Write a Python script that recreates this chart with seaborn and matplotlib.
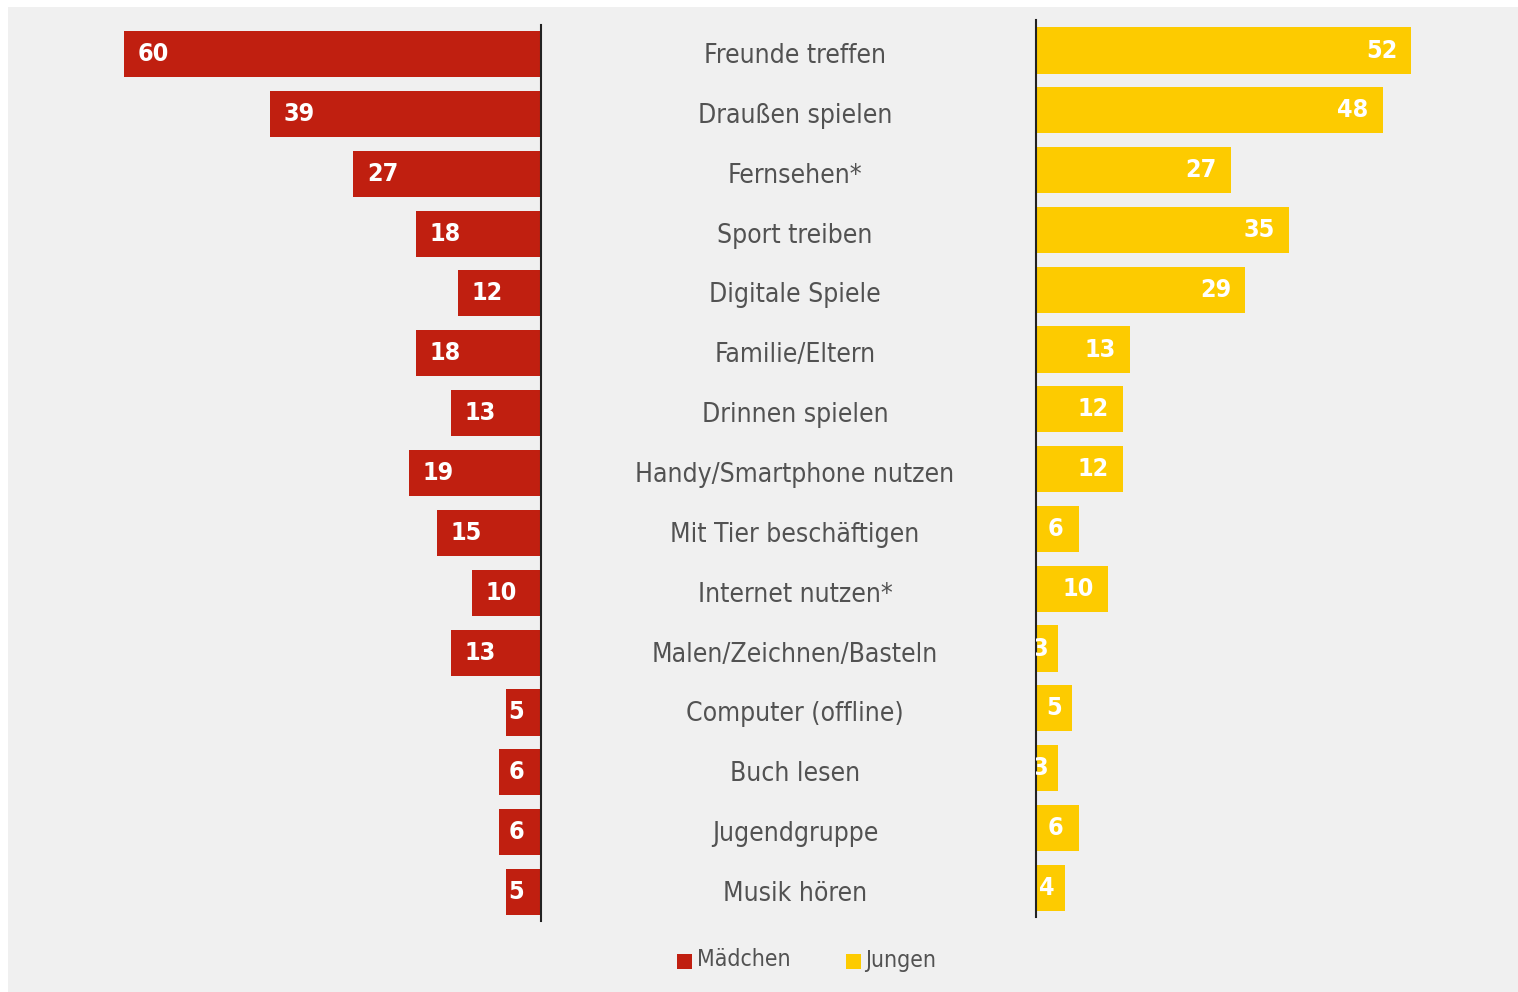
import pandas as pd
import seaborn as sns
import matplotlib.pyplot as plt
from matplotlib.patches import Rectangle

# Daten
kategorien = ['Freunde treffen', 'Draußen spielen', 'Fernsehen*', 'Sport treiben',
              'Digitale Spiele', 'Familie/Eltern', 'Drinnen spielen',
              'Handy/Smartphone nutzen', 'Mit Tier beschäftigen', 'Internet nutzen*',
              'Malen/Zeichnen/Basteln', 'Computer (offline)', 'Buch lesen',
              'Jugendgruppe', 'Musik hören']
maedchen = [60, 39, 27, 18, 12, 18, 13, 19, 15, 10, 13, 5, 6, 6, 5]
jungen = [52, 48, 27, 35, 29, 13, 12, 12, 6, 10, 3, 5, 3, 6, 4]

ROT = '#c01f10'
GELB = '#fdcb00'
GRAU_BG = '#f0f0f0'
TEXT = '#525252'

sns.set_theme(style='white')
plt.rcParams['font.family'] = ['DejaVu Sans']
plt.rcParams['font.stretch'] = 'condensed'

W, H = 1518, 992
fig = plt.figure(figsize=(W / 100, H / 100), dpi=100)
fig.patch.set_facecolor('white')
fig.patches.append(Rectangle((8 / W, 0), 1 - 8 / W, 1 - 7 / H, transform=fig.transFigure,
                             facecolor=GRAU_BG, edgecolor='none', zorder=-10))

def px_box(x0, y0, x1, y1):
    # Pixel -> Figure-Koordinaten (y von oben)
    return [x0 / W, 1 - y1 / H, (x1 - x0) / W, (y1 - y0) / H]

df = pd.DataFrame({'kat': kategorien, 'm': maedchen, 'j': jungen})

# linke Seite: Mädchen
ax_l = fig.add_axes(px_box(8, 25, 541, 921))
sns.barplot(data=df, y='kat', x='m', color=ROT, width=0.77, saturation=1,
            ax=ax_l, orient='h', linewidth=0)
px_l = 6.95  # Pixel pro Prozentpunkt
ax_l.set_xlim((541 - 8) / px_l, 0)
sp = 59.86
ax_l.set_ylim((921 - 54) / sp, (25 - 54) / sp)

# rechte Seite: Jungen
ax_r = fig.add_axes(px_box(1036, 20, 1518, 917))
sns.barplot(data=df, y='kat', x='j', color=GELB, width=0.77, saturation=1,
            ax=ax_r, orient='h', linewidth=0)
px_r = 7.22
ax_r.set_xlim(0, (1518 - 1036) / px_r)
ax_r.set_ylim((917 - 50.5) / 59.8, (20 - 50.5) / 59.8)

for ax in (ax_l, ax_r):
    ax.set_facecolor('none')
    ax.set_xlabel('')
    ax.set_ylabel('')
    ax.set_xticks([])
    ax.set_yticks([])
    for s in ax.spines.values():
        s.set_visible(False)

ax_l.spines['right'].set_visible(True)
ax_l.spines['right'].set_color('#222222')
ax_l.spines['right'].set_linewidth(1.5)
ax_r.spines['left'].set_visible(True)
ax_r.spines['left'].set_color('#222222')
ax_r.spines['left'].set_linewidth(1.5)

# Werte in den Balken
for i, v in enumerate(maedchen):
    if v < 8:
        ax_l.annotate(str(v), (0, i), xytext=(-17, 0), textcoords='offset pixels',
                      ha='right', va='center', color='white', fontsize=18, fontweight='bold')
    else:
        ax_l.annotate(str(v), (v, i), xytext=(14, 0), textcoords='offset pixels',
                      ha='left', va='center', color='white', fontsize=18, fontweight='bold')
for i, v in enumerate(jungen):
    if v < 8:
        off = min(27, v * px_r - 10)
        ax_r.annotate(str(v), (0, i), xytext=(off, 0), textcoords='offset pixels',
                      ha='right', va='center', color='white', fontsize=18, fontweight='bold',
                      annotation_clip=False, clip_on=True)
    else:
        ax_r.annotate(str(v), (v, i), xytext=(-14, 0), textcoords='offset pixels',
                      ha='right', va='center', color='white', fontsize=18, fontweight='bold',
                      annotation_clip=False, clip_on=True)

# Kategorien in der Mitte
for i, k in enumerate(kategorien):
    ax_l.annotate(k, (0, i), xytext=(795 - 541, -2), textcoords='offset pixels',
                  ha='center', va='center', color=TEXT, fontsize=19, annotation_clip=False)

# Legende
fig.patches.append(Rectangle((677 / W, 1 - 969 / H), 15 / W, 15 / H,
                             transform=fig.transFigure, facecolor=ROT, edgecolor='none'))
fig.text(697 / W, 1 - 960 / H, 'Mädchen', color=TEXT, fontsize=16.5, va='center', ha='left')
fig.patches.append(Rectangle((846 / W, 1 - 969 / H), 15 / W, 15 / H,
                             transform=fig.transFigure, facecolor=GELB, edgecolor='none'))
fig.text(865 / W, 1 - 960 / H, 'Jungen', color=TEXT, fontsize=16.5, va='center', ha='left')

fig.savefig('out.png', dpi=100, facecolor=fig.get_facecolor())
